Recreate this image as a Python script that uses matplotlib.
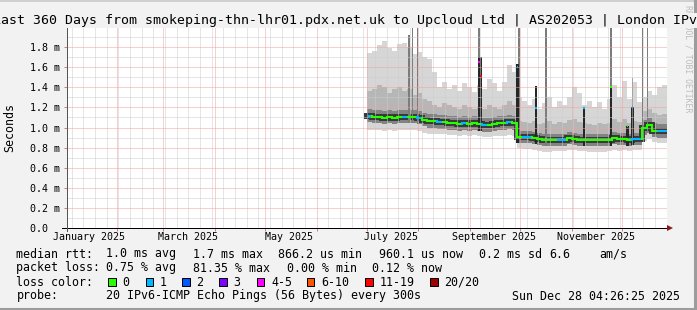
import matplotlib
matplotlib.use("Agg")
import matplotlib.pyplot as plt
import matplotlib.dates as mdates
from matplotlib.ticker import FixedLocator, NullFormatter
from matplotlib.patches import Rectangle, Polygon
from matplotlib.lines import Line2D
import numpy as np
from datetime import datetime, timedelta

# ------------------------------------------------------------------ data
view_start = datetime(2025, 1, 2, 4, 26, 25)
view_end = datetime(2025, 12, 28, 4, 26, 25)
data_start = datetime(2025, 7, 1)
step_days = 3

median_ms = [1.11, 1.10, 1.10, 1.09, 1.10, 1.09, 1.10, 1.10, 1.10, 1.10,
             1.09, 1.07, 1.06, 1.06, 1.05, 1.05, 1.04, 1.04, 1.03, 1.04,
             1.03, 1.04, 1.03, 1.02, 1.02, 1.03, 1.04, 1.04, 1.05, 1.04,
             0.91, 0.91, 0.91, 0.90, 0.89, 0.88, 0.88, 0.88, 0.88, 0.88,
             0.90, 0.89, 0.88, 0.88, 0.875, 0.875, 0.875, 0.875, 0.88, 0.90,
             0.89, 0.89, 0.88, 0.89, 0.89, 1.00, 1.02, 0.97, 0.965, 0.965]
loss_count = [1, 0, 0, 0, 0, 0, 0, 1, 0, 0,
              1, 0, 0, 0, 1, 0, 0, 0, 0, 1,
              0, 0, 0, 1, 0, 0, 0, 0, 1, 0,
              0, 1, 1, 0, 0, 0, 0, 0, 1, 1,
              0, 0, 0, 0, 0, 0, 0, 0, 0, 0,
              0, 0, 0, 1, 1, 0, 0, 0, 1, 1]
smoke_max = [1.74, 1.76, 1.82, 1.86, 1.79, 1.76, 1.83, 1.84, 1.80, 1.73,
             1.75, 1.70, 1.68, 1.55, 1.40, 1.45, 1.38, 1.42, 1.36, 1.44,
             1.40, 1.35, 1.42, 1.38, 1.48, 1.44, 1.36, 1.45, 1.62, 1.55,
             1.30, 1.26, 1.22, 1.28, 1.18, 1.24, 1.30, 1.20, 1.26, 1.22,
             1.30, 1.40, 1.34, 1.22, 1.26, 1.20, 1.25, 1.18, 1.28, 1.42,
             1.30, 1.46, 1.28, 1.45, 1.25, 1.30, 1.36, 1.32, 1.40, 1.42]
smoke_upper = [1.36, 1.38, 1.42, 1.40, 1.34, 1.38, 1.40, 1.36, 1.38, 1.32,
               1.34, 1.28, 1.26, 1.22, 1.20, 1.24, 1.22, 1.20, 1.18, 1.22,
               1.20, 1.18, 1.20, 1.18, 1.22, 1.20, 1.18, 1.22, 1.26, 1.22,
               1.06, 1.05, 1.04, 1.06, 1.03, 1.04, 1.06, 1.03, 1.05, 1.04,
               1.07, 1.08, 1.05, 1.04, 1.03, 1.02, 1.04, 1.03, 1.04, 1.08,
               1.05, 1.08, 1.04, 1.06, 1.05, 1.16, 1.18, 1.14, 1.12, 1.13]
smoke_hi = [1.18, 1.17, 1.17, 1.16, 1.17, 1.16, 1.17, 1.17, 1.17, 1.17,
            1.16, 1.14, 1.13, 1.13, 1.12, 1.12, 1.11, 1.11, 1.10, 1.11,
            1.10, 1.11, 1.10, 1.09, 1.09, 1.10, 1.11, 1.11, 1.12, 1.11,
            0.97, 0.97, 0.97, 0.96, 0.95, 0.94, 0.94, 0.94, 0.94, 0.94,
            0.96, 0.95, 0.94, 0.94, 0.935, 0.935, 0.935, 0.935, 0.94, 0.96,
            0.95, 0.95, 0.94, 0.95, 0.95, 1.07, 1.09, 1.04, 1.03, 1.03]
smoke_lo = [1.05, 1.04, 1.04, 1.03, 1.04, 1.03, 1.04, 1.04, 1.04, 1.04,
            1.03, 1.01, 1.00, 1.00, 0.99, 0.99, 0.98, 0.98, 0.97, 0.98,
            0.97, 0.98, 0.97, 0.96, 0.96, 0.97, 0.98, 0.98, 0.99, 0.98,
            0.85, 0.85, 0.85, 0.84, 0.83, 0.82, 0.82, 0.82, 0.82, 0.82,
            0.84, 0.83, 0.82, 0.82, 0.815, 0.815, 0.815, 0.815, 0.82, 0.84,
            0.83, 0.83, 0.82, 0.83, 0.83, 0.93, 0.95, 0.91, 0.90, 0.90]
smoke_min = [0.98, 0.975, 0.975, 0.97, 0.975, 0.97, 0.975, 0.975, 0.975, 0.975,
             0.97, 0.95, 0.94, 0.94, 0.935, 0.935, 0.93, 0.93, 0.92, 0.93,
             0.92, 0.93, 0.92, 0.91, 0.91, 0.915, 0.92, 0.92, 0.93, 0.92,
             0.80, 0.79, 0.79, 0.78, 0.77, 0.76, 0.76, 0.77, 0.77, 0.77,
             0.78, 0.78, 0.77, 0.77, 0.76, 0.76, 0.76, 0.76, 0.77, 0.78,
             0.77, 0.78, 0.77, 0.78, 0.78, 0.87, 0.89, 0.86, 0.85, 0.85]

# short-lived spikes (single days)
spike_dates = ["2025-07-26", "2025-07-28", "2025-07-31", "2025-09-06", "2025-09-07",
               "2025-09-29", "2025-09-30", "2025-10-10", "2025-10-16", "2025-11-08",
               "2025-11-24", "2025-12-04", "2025-12-07", "2025-12-13", "2025-12-16"]
spike_gray_top = [1.92, 2.0, 2.0, 2.0, None,
                  None, 2.0, None, 2.0, None,
                  2.0, None, 1.49, 2.0, 2.0]
spike_dark_top = [None, None, None, 1.70, 1.70,
                  1.63, None, 1.41, None, 1.19,
                  1.40, 1.01, 1.20, None, None]
spike_median = [None, None, None, 1.65, 1.51,
                1.60, None, 1.19, None, 1.19,
                1.40, 1.01, 1.20, None, None]
spike_loss = [0, 0, 0, 4, 12,
              1, 0, 1, 0, 1,
              0, 0, 1, 0, 0]

y_ticks = [0.0, 0.2, 0.4, 0.6, 0.8, 1.0, 1.2, 1.4, 1.6, 1.8]
y_tick_labels = ["0.0  ", "0.2 m", "0.4 m", "0.6 m", "0.8 m", "1.0 m",
                 "1.2 m", "1.4 m", "1.6 m", "1.8 m"]
month_labels = ["January 2025", "March 2025", "May 2025", "July 2025",
                "September 2025", "November 2025"]
month_label_dates = ["2025-01-15 12:00", "2025-03-15 12:00", "2025-05-15 12:00",
                     "2025-07-15 12:00", "2025-09-15 12:00", "2025-11-15 12:00"]

loss_labels = ["0", "1", "2", "3", "4-5", "6-10", "11-19", "20/20"]
loss_colors = ["#26ff00", "#00b8ff", "#0059ff", "#7e00ff",
               "#ff00ff", "#ff5500", "#ff0000", "#a00000"]
loss_bucket_max = [0, 1, 2, 3, 5, 10, 19, 20]

title = "Last 360 Days from smokeping-thn-lhr01.pdx.net.uk to Upcloud Ltd | AS202053 | London IPv6"
stats_rtt = [("median rtt:", 16.5), ("1.0 ms avg", 106.2), ("1.7 ms max", 192.8),
             ("866.2 us min", 278.0), ("960.1 us now", 378.8), ("0.2 ms sd", 478.6),
             ("6.6", 549.5), ("am/s", 599.2)]
stats_loss = [("packet loss:", 16.5), ("0.75 % avg", 106.2), ("81.35 % max", 193.5),
              ("0.00 % min", 286.8), ("0.12 % now", 371.5)]
probe_text = "20 IPv6-ICMP Echo Pings (56 Bytes) every 300s"
stamp_text = "Sun Dec 28 04:26:25 2025"
legend_box_x = [108.0, 145.5, 182.0, 219.0, 256.5, 306.5, 365.0, 430.0]

# ------------------------------------------------------------------ layout
W, H, DPI = 697, 310, 100
MONO = "DejaVu Sans Mono"
BG = "#f2f2f2"
fig = plt.figure(figsize=(W / DPI, H / DPI), dpi=DPI)
fig.patch.set_facecolor(BG)


def fx(px):
    return px / W


def fy(py):
    return 1 - py / H


L, R, T, B = 67, 667, 27, 228
ax = fig.add_axes([fx(L), fy(B), (R - L) / W, (B - T) / H])
ax.set_facecolor("white")
ax.set_xlim(view_start, view_end)
ax.set_ylim(0, 2.0)
for s in ax.spines.values():
    s.set_visible(False)


def loss_color(n):
    for mx, c in zip(loss_bucket_max, loss_colors):
        if n <= mx:
            return c
    return loss_colors[-1]


n = len(median_ms)
edges = [data_start + timedelta(days=step_days * k) for k in range(n + 1)]
te = mdates.date2num(edges)


def ext(v):
    return list(v) + [v[-1]]


ax.fill_between(te, ext(smoke_min), ext(smoke_max), step="post",
                color="#d6d6d6", lw=0, zorder=1)
ax.fill_between(te, ext(smoke_lo), ext(smoke_upper), step="post",
                color="#b6b6b6", lw=0, zorder=1.1)
ax.fill_between(te, ext(smoke_lo), ext(smoke_hi), step="post",
                color="#838383", lw=0, zorder=1.2)
ax.step(te, ext(median_ms), where="post", color="#383838", lw=4.3,
        zorder=1.3, solid_joinstyle="miter")

# spikes
sd = mdates.date2num([datetime.strptime(d, "%Y-%m-%d") + timedelta(hours=12)
                      for d in spike_dates])
for d, gt, dt, md, ls in zip(sd, spike_gray_top, spike_dark_top, spike_median, spike_loss):
    k = min(int((d - te[0]) // step_days), n - 1)
    base = smoke_lo[k]
    if gt is not None:
        ax.bar(d, gt - base, bottom=base, width=1.1, color="#7c7c7c", lw=0, zorder=1.4)
    if dt is not None:
        ax.bar(d, dt - base, bottom=base, width=1.3, color="#262626", lw=0, zorder=1.5)
    if md is not None:
        ax.plot([d - 0.55, d + 0.55], [md, md], color=loss_color(ls), lw=1.6,
                solid_capstyle="butt", zorder=4)

# median line coloured by loss
for k in range(n):
    c = loss_color(loss_count[k])
    ax.plot([te[k], te[k + 1]], [median_ms[k], median_ms[k]], color=c, lw=1.5,
            solid_capstyle="butt", zorder=4)
    if k > 0 and median_ms[k] != median_ms[k - 1]:
        ax.plot([te[k], te[k]], [median_ms[k - 1], median_ms[k]], color=c, lw=1.5,
                zorder=4)

# grid
ax.xaxis.set_major_locator(mdates.MonthLocator())
ax.xaxis.set_minor_locator(mdates.WeekdayLocator(byweekday=mdates.SU))
ax.xaxis.set_major_formatter(NullFormatter())
ax.yaxis.set_major_locator(FixedLocator(y_ticks))
ax.yaxis.set_minor_locator(FixedLocator(list(np.arange(0.1, 2.0, 0.2))))
ax.set_yticklabels(y_tick_labels, fontfamily=MONO, fontsize=7.2)
ax.set_axisbelow(False)
ax.grid(which="major", color="#f3a0a0", lw=0.72, ls=(0, (1, 1)), zorder=3)
ax.grid(which="minor", color="#cdcdcd", lw=0.72, ls=(0, (1, 1)), zorder=3)
ax.tick_params(axis="both", which="major", direction="out", length=2.2,
               width=0.72, color="#d08080", pad=2.9)
ax.tick_params(axis="both", which="minor", length=0)

for lab, d in zip(month_labels, month_label_dates):
    ax.text(mdates.date2num(datetime.strptime(d, "%Y-%m-%d %H:%M")), -8.5 / 201,
            lab, transform=ax.get_xaxis_transform(), ha="center", va="center",
            fontfamily=MONO, fontsize=7.2)

# axes lines with arrows
ax.add_line(Line2D([-5 / 600, 1.0], [0, 0], transform=ax.transAxes, color="black",
                   lw=0.72, clip_on=False, zorder=5))
ax.add_line(Line2D([-0.5 / 600, -0.5 / 600], [-3 / 201, 1.0 + 4 / 201],
                   transform=ax.transAxes, color="#555555", lw=0.72,
                   clip_on=False, zorder=5))
ax.add_patch(Polygon([[1.0, 3 / 201], [1.0, -3 / 201], [1 + 6 / 600, 0]],
                     closed=True, transform=ax.transAxes, color="#8b1a1a",
                     clip_on=False, zorder=6, lw=0))
ax.add_patch(Polygon([[-3.5 / 600, 1 + 1 / 201], [2.5 / 600, 1 + 1 / 201],
                      [-0.5 / 600, 1 + 7 / 201]],
                     closed=True, transform=ax.transAxes, color="#8b1a1a",
                     clip_on=False, zorder=6, lw=0))

# ------------------------------------------------------------------ texts
fig.text(fx(688), fy(5), "RRDTOOL / TOBI OETIKER", rotation=270, ha="center",
         va="top", fontfamily=MONO, fontsize=5.9, color="#bdbdbd", zorder=1)
fig.text(fx(-7), fy(24), title, ha="left", va="baseline", fontfamily=MONO,
         fontsize=9.57, color="black", zorder=5,
         bbox=dict(facecolor=BG, edgecolor="none", pad=1.0))
fig.text(fx(9.5), fy(128), "Seconds", rotation=90, ha="center", va="center",
         fontfamily=MONO, fontsize=8.4)

FS = 8.4
for txt, x in stats_rtt:
    fig.text(fx(x), fy(257.5), txt, ha="left", va="baseline", fontfamily=MONO, fontsize=FS)
for txt, x in stats_loss:
    fig.text(fx(x), fy(271.5), txt, ha="left", va="baseline", fontfamily=MONO, fontsize=FS)
fig.text(fx(16.5), fy(285.5), "loss color:", ha="left", va="baseline",
         fontfamily=MONO, fontsize=FS)
for bx, c, lab in zip(legend_box_x, loss_colors, loss_labels):
    fig.add_artist(Rectangle((fx(bx), fy(285.5)), 7.5 / W, 7.5 / H,
                             transform=fig.transFigure, facecolor=c,
                             edgecolor="black", lw=0.72))
    fig.text(fx(bx + 14.5), fy(285.5), lab, ha="left", va="baseline",
             fontfamily=MONO, fontsize=FS)
fig.text(fx(16.5), fy(299.5), "probe:", ha="left", va="baseline",
         fontfamily=MONO, fontsize=FS)
fig.text(fx(106.0), fy(299.5), probe_text, ha="left", va="baseline",
         fontfamily=MONO, fontsize=FS)
fig.text(fx(512.5), fy(299.5), stamp_text, ha="left", va="baseline",
         fontfamily=MONO, fontsize=FS)

# frame
fig.add_artist(Line2D([0, 1], [fy(1), fy(1)], transform=fig.transFigure,
                      color="#d0d0d0", lw=1.4))
fig.add_artist(Line2D([0, 1], [fy(308.5), fy(308.5)], transform=fig.transFigure,
                      color="#9c9c9c", lw=2.2))
fig.add_artist(Line2D([fx(695), fx(695)], [0, 1], transform=fig.transFigure,
                      color="#9c9c9c", lw=2.2))

fig.savefig("out.png", dpi=DPI, facecolor=fig.get_facecolor())
